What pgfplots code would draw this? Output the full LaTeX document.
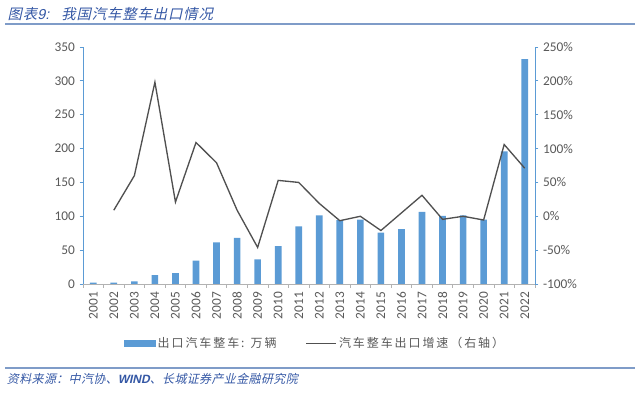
\documentclass[border=0pt]{standalone}
\usepackage{pgfplots}
\pgfplotsset{compat=1.18}
\usepackage{fontspec}
\setmainfont{Carlito}
\newfontfamily\cjk[LetterSpace=16]{Noto Sans CJK SC}
\newfontfamily\cjkit[FakeSlant=0.22,LetterSpace=6]{Noto Sans CJK SC}
\newfontfamily\cjkits[FakeSlant=0.22,LetterSpace=3]{Noto Sans CJK SC}
\newfontfamily\latit[FakeSlant=0.22]{Liberation Sans}
\definecolor{barblue}{HTML}{5B9BD5}
\definecolor{axblue}{HTML}{5B9BD5}
\definecolor{txtgray}{HTML}{595959}
\definecolor{linegray}{HTML}{505050}
\definecolor{titleblue}{HTML}{3558A5}
\definecolor{rule}{HTML}{7F9CC8}
\pgfplotstableread{
x year bar growth
0 2001 2.1 nan
1 2002 2.2 9
2 2003 4 60
3 2004 13 198
4 2005 16 21
5 2006 34.5 109
6 2007 61.5 79
7 2008 68 9
8 2009 36.5 -46
9 2010 56 53
10 2011 85 50
11 2012 101.5 19
12 2013 94.5 -6.5
13 2014 95 0
14 2015 76 -21
15 2016 81 5
16 2017 106.5 31
17 2018 100.5 -4.5
18 2019 101.5 0
19 2020 95 -5.5
20 2021 196 106
21 2022 332 71
}\datatable
\begin{document}
\begin{tikzpicture}[x=1pt,y=1pt]
\path[use as bounding box] (0,0) rectangle (480,294.75);
% title
\node[anchor=west, inner sep=0pt, text=titleblue, font=\fontsize{10.8}{12}\selectfont] at (5.5,284.5) {\cjkit 图表\latit 9:\ \ \ \cjkit 我国汽车整车出口情况};
\draw[rule, line width=0.9pt] (4,276.75) -- (476,276.75);
% source
\draw[rule, line width=0.9pt] (4,18.75) -- (476,18.75);
\node[anchor=west, inner sep=0pt, text=titleblue, font=\fontsize{9}{11}\selectfont] at (5,10.5) {\cjkits 资料来源：中汽协、{\latit\bfseries WIND}、长城证券产业金融研究院};
\begin{axis}[
  at={(62.25pt,81.75pt)}, anchor=south west,
  scale only axis, width=339pt, height=177.75pt,
  xmin=-0.5, xmax=21.5, ymin=0, ymax=350,
  ytick={0,50,...,350},
  axis y line*=left, axis x line*=bottom,
  y axis line style={axblue, line width=0.6pt},
  x axis line style={draw=gray!60, line width=0.6pt},
  xtick={0,...,21},
  xticklabels={2001,2002,2003,2004,2005,2006,2007,2008,2009,2010,2011,2012,2013,2014,2015,2016,2017,2018,2019,2020,2021,2022},
  xticklabel style={rotate=90, anchor=east, font=\fontsize{10}{12}\selectfont, text=txtgray},
  major x tick style={draw=none},
  minor xtick={-0.5,0.5,...,21.5},
  minor x tick style={draw=gray!60, line width=0.5pt},
  tick align=outside,
  minor tick length=3pt,
  major tick length=2.5pt,
  y tick style={axblue, line width=0.6pt},
  yticklabel style={font=\fontsize{10}{12}\selectfont, text=txtgray},
  /pgf/number format/assume math mode=true,
]
\addplot[ybar, bar width=5pt, fill=barblue, draw=none] table[x=x, y=bar] {\datatable};
\end{axis}
\begin{axis}[
  at={(62.25pt,81.75pt)}, anchor=south west,
  scale only axis, width=339pt, height=177.75pt,
  xmin=-0.5, xmax=21.5, ymin=-100, ymax=250,
  ytick={-100,-50,...,250},
  yticklabel={\pgfmathprintnumber{\tick}\%},
  axis y line*=right, axis x line=none,
  y axis line style={axblue, line width=0.6pt},
  tick align=outside,
  major tick length=2.5pt,
  y tick style={axblue, line width=0.6pt},
  yticklabel style={font=\fontsize{10}{12}\selectfont, text=txtgray},
  /pgf/number format/assume math mode=true,
  legend columns=2,
  legend style={at={(0.514,-0.251)}, anchor=center, draw=none, fill=none,
    font=\fontsize{9}{11}\selectfont\cjk, text=txtgray,
    /tikz/every even column/.append style={column sep=20pt}},
]
\addlegendimage{legend image code/.code={\fill[barblue] (0pt,-2.2pt) rectangle (23pt,2.2pt);}}
\addlegendentry{出口汽车整车: 万辆}
\addplot[linegray, line width=1pt, mark=none, unbounded coords=jump,
  legend image code/.code={\draw[linegray, line width=0.8pt] (0pt,0pt) -- (22pt,0pt);}]
  table[x=x, y=growth] {\datatable};
\addlegendentry{汽车整车出口增速（右轴）}
\end{axis}
\end{tikzpicture}
\end{document}
